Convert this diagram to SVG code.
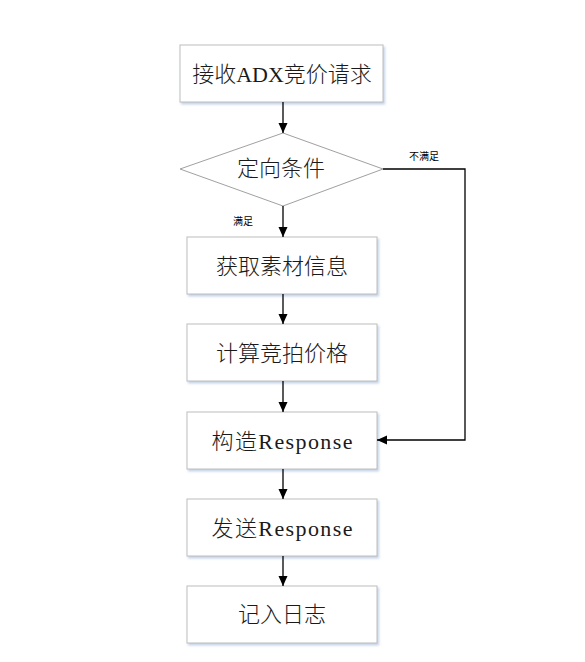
<svg xmlns="http://www.w3.org/2000/svg" width="585" height="662" viewBox="0 0 585 662">
  <defs>
    <marker id="arrow" viewBox="0 0 10 10" refX="10" refY="5" markerWidth="10" markerHeight="10" markerUnits="userSpaceOnUse" orient="auto">
      <path d="M0,0.5 L10,5 L0,9.5 Z" fill="#000"/>
    </marker>
    <filter id="shadow" x="-10%" y="-10%" width="130%" height="140%">
      <feDropShadow dx="1.5" dy="2" stdDeviation="1.2" flood-color="#9fb6d6" flood-opacity="0.6"/>
    </filter>
  </defs>
  <style>
    .box { fill: #fff; stroke: #bdbdbd; stroke-width: 1; }
    .dia { fill: #fff; stroke: #a0a0a0; stroke-width: 1; }
    .label { font-family: "Liberation Serif", "Noto Sans CJK SC", serif; font-size: 22px; font-weight: 300; fill: #1a1a1a; text-anchor: middle; dominant-baseline: central; }
    .small { font-family: "Noto Sans CJK SC", sans-serif; font-size: 10px; fill: #000; text-anchor: middle; dominant-baseline: central; }
    .line { fill: none; stroke: #000; stroke-width: 1.3; }
  </style>
  <rect width="585" height="662" fill="#fff"/>

  <g id="receive">
    <rect class="box" x="180" y="45" width="203" height="57" filter="url(#shadow)"/>
    <text class="label" x="282" y="74">接收ADX竞价请求</text>
  </g>
  <g id="targeting">
    <polygon class="dia" points="283,133 383,169 283,206 180,169"/>
    <text class="label" x="281" y="168">定向条件</text>
  </g>
  <g id="fetch">
    <rect class="box" x="187" y="237" width="190" height="57" filter="url(#shadow)"/>
    <text class="label" x="282" y="266">获取素材信息</text>
  </g>
  <g id="price">
    <rect class="box" x="187" y="324" width="190" height="57" filter="url(#shadow)"/>
    <text class="label" x="282" y="353">计算竞拍价格</text>
  </g>
  <g id="build">
    <rect class="box" x="187" y="412" width="190" height="57" filter="url(#shadow)"/>
    <text class="label" x="282" y="441" textLength="141" lengthAdjust="spacing">构造Response</text>
  </g>
  <g id="send">
    <rect class="box" x="187" y="499" width="190" height="57" filter="url(#shadow)"/>
    <text class="label" x="282" y="528" textLength="141" lengthAdjust="spacing">发送Response</text>
  </g>
  <g id="log">
    <rect class="box" x="187" y="586" width="190" height="57" filter="url(#shadow)"/>
    <text class="label" x="282" y="614">记入日志</text>
  </g>

  <g id="connectors">
    <line class="line" x1="283" y1="102" x2="283" y2="133" marker-end="url(#arrow)"/>
    <line class="line" x1="283" y1="206" x2="283" y2="237" marker-end="url(#arrow)"/>
    <line class="line" x1="283" y1="294" x2="283" y2="324" marker-end="url(#arrow)"/>
    <line class="line" x1="283" y1="381" x2="283" y2="412" marker-end="url(#arrow)"/>
    <line class="line" x1="283" y1="469" x2="283" y2="499" marker-end="url(#arrow)"/>
    <line class="line" x1="283" y1="556" x2="283" y2="586" marker-end="url(#arrow)"/>
    <polyline class="line" points="383,169 465,169 465,440 377,440" marker-end="url(#arrow)"/>
    <text class="small" x="424" y="155">不满足</text>
    <text class="small" x="243" y="220">满足</text>
  </g>
</svg>
